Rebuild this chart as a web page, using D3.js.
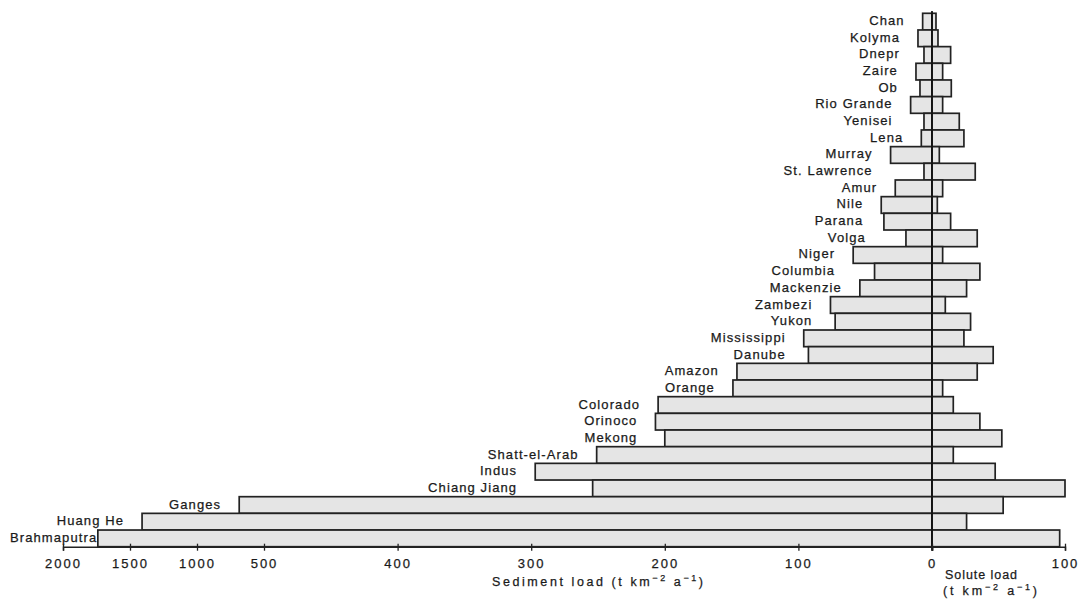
<!DOCTYPE html>
<html>
<head>
<meta charset="utf-8">
<script src="https://cdn.jsdelivr.net/npm/d3@7"></script>
<style>
  html, body { margin: 0; padding: 0; background: #fff; }
  svg { display: block; }
  text { font-family: "Liberation Sans", Arial, sans-serif; fill: #1a1a1a; stroke: #1a1a1a; stroke-width: 0.25px; }
  .river { font-size: 13px; letter-spacing: 1.1px; }
  .tick text { font-size: 13px; letter-spacing: 2px; }
  .title { font-size: 12.5px; }
</style>
</head>
<body>
<svg id="chart" width="1083" height="602"></svg>
<script>
// Rivers, ordered top to bottom
const rivers = [
  "Chan", "Kolyma", "Dnepr", "Zaire", "Ob", "Rio Grande", "Yenisei", "Lena",
  "Murray", "St. Lawrence", "Amur", "Nile", "Parana", "Volga", "Niger",
  "Columbia", "Mackenzie", "Zambezi", "Yukon", "Mississippi", "Danube",
  "Amazon", "Orange", "Colorado", "Orinoco", "Mekong", "Shatt-el-Arab",
  "Indus", "Chiang Jiang", "Ganges", "Huang He", "Brahmaputra"
];

// Sediment load, t km^-2 a^-1
const sedimentLoad = [
  7, 10.5, 6, 12, 9, 16, 6, 8,
  31, 6, 27.5, 38, 36, 19.5, 59,
  43, 54, 76, 72.5, 96, 92.5,
  146, 149, 205, 207, 200, 251,
  297, 254, 685, 1410, 1740
];

// Solute load, t km^-2 a^-1
const soluteLoad = [
  3, 4.5, 14, 8, 14.5, 8, 20.5, 24,
  5.5, 32.5, 8, 4, 14, 34, 8,
  36, 26, 10, 29, 24, 46,
  34, 8, 16, 36, 52.5, 16,
  47.5, 100, 53.5, 26, 96
];

// Axis ticks
const sedimentTicks = [2000, 1500, 1000, 500, 400, 300, 200, 100, 0];
const soluteTicks = [100];

const svg = d3.select("#chart");

const zeroX = 932;
const axisY = 546.7;

// Sediment axis is broken: linear to 500, compressed tenfold beyond
const xSed = d3.scaleLinear()
  .domain([2000, 500, 0])
  .range([63, 264, zeroX]);

const xSol = d3.scaleLinear()
  .domain([0, 100])
  .range([zeroX, 1065]);

const y = d3.scaleBand()
  .domain(rivers)
  .range([13.3, axisY])
  .padding(0);

const rows = rivers.map((r, i) => ({ river: r, sed: sedimentLoad[i], sol: soluteLoad[i] }));

const barStyle = sel => sel
  .attr("fill", "#e5e5e5")
  .attr("stroke", "#222")
  .attr("stroke-width", 1.7);

// Sediment bars (left)
svg.append("g").selectAll("rect")
  .data(rows).join("rect")
  .attr("x", d => xSed(d.sed))
  .attr("y", d => y(d.river))
  .attr("width", d => zeroX - xSed(d.sed))
  .attr("height", y.bandwidth())
  .call(barStyle);

// Solute bars (right)
svg.append("g").selectAll("rect")
  .data(rows).join("rect")
  .attr("x", zeroX)
  .attr("y", d => y(d.river))
  .attr("width", d => xSol(d.sol) - zeroX)
  .attr("height", y.bandwidth())
  .call(barStyle);

// Zero line
svg.append("line")
  .attr("x1", zeroX).attr("x2", zeroX)
  .attr("y1", 11).attr("y2", axisY + 4)
  .attr("stroke", "#111").attr("stroke-width", 1.7);

// River labels, set just left of the wider of this bar and the one above
const labels = svg.append("g").selectAll("text")
  .data(rows).join("text")
  .attr("class", "river")
  .attr("text-anchor", "end")
  .attr("dominant-baseline", "central")
  .attr("y", d => y(d.river) + y.bandwidth() / 2 - 1)
  .text(d => d.river);

labels.each(function (d, i) {
  const left = Math.min(xSed(d.sed), i > 0 ? xSed(rows[i - 1].sed) : Infinity);
  const w = this.getComputedTextLength();
  const xr = Math.max(left - 18, w + 10);
  d3.select(this).attr("x", xr);
});

// Axes
const styleAxis = g => {
  g.select(".domain").attr("stroke", "#222").attr("stroke-width", 1.5);
  g.selectAll(".tick line").attr("stroke", "#222").attr("stroke-width", 1.3)
    .attr("y1", -3).attr("y2", 4);
  g.selectAll(".tick text").attr("y", 12).attr("dy", "0.71em");
};

svg.append("g")
  .attr("transform", `translate(0,${axisY})`)
  .call(d3.axisBottom(xSed).tickValues(sedimentTicks).tickSizeOuter(0).tickSize(4)
    .tickFormat(d3.format("d")))
  .call(styleAxis);

svg.append("g")
  .attr("transform", `translate(0,${axisY})`)
  .call(d3.axisBottom(xSol).tickValues(soluteTicks).tickSizeOuter(0).tickSize(4)
    .tickFormat(d3.format("d")))
  .call(styleAxis);

// Axis titles with superscript exponents
function unitText(sel, lead) {
  sel.append("tspan").text(lead + "(t km");
  sel.append("tspan").attr("dy", -5).attr("font-size", "9px").text("−2");
  sel.append("tspan").attr("dy", 5).text(" a");
  sel.append("tspan").attr("dy", -5).attr("font-size", "9px").text("−1");
  sel.append("tspan").attr("dy", 5).text(")");
}

const sedTitle = svg.append("text").attr("class", "title")
  .attr("x", 492).attr("y", 586)
  .attr("textLength", 211).attr("lengthAdjust", "spacing");
unitText(sedTitle, "Sediment  load  ");

svg.append("text").attr("class", "title")
  .attr("x", 945).attr("y", 579)
  .attr("textLength", 72).attr("lengthAdjust", "spacing")
  .text("Solute  load");

const solUnit = svg.append("text").attr("class", "title")
  .attr("x", 943).attr("y", 595)
  .attr("textLength", 94).attr("lengthAdjust", "spacing");
unitText(solUnit, "");
</script>
</body>
</html>
